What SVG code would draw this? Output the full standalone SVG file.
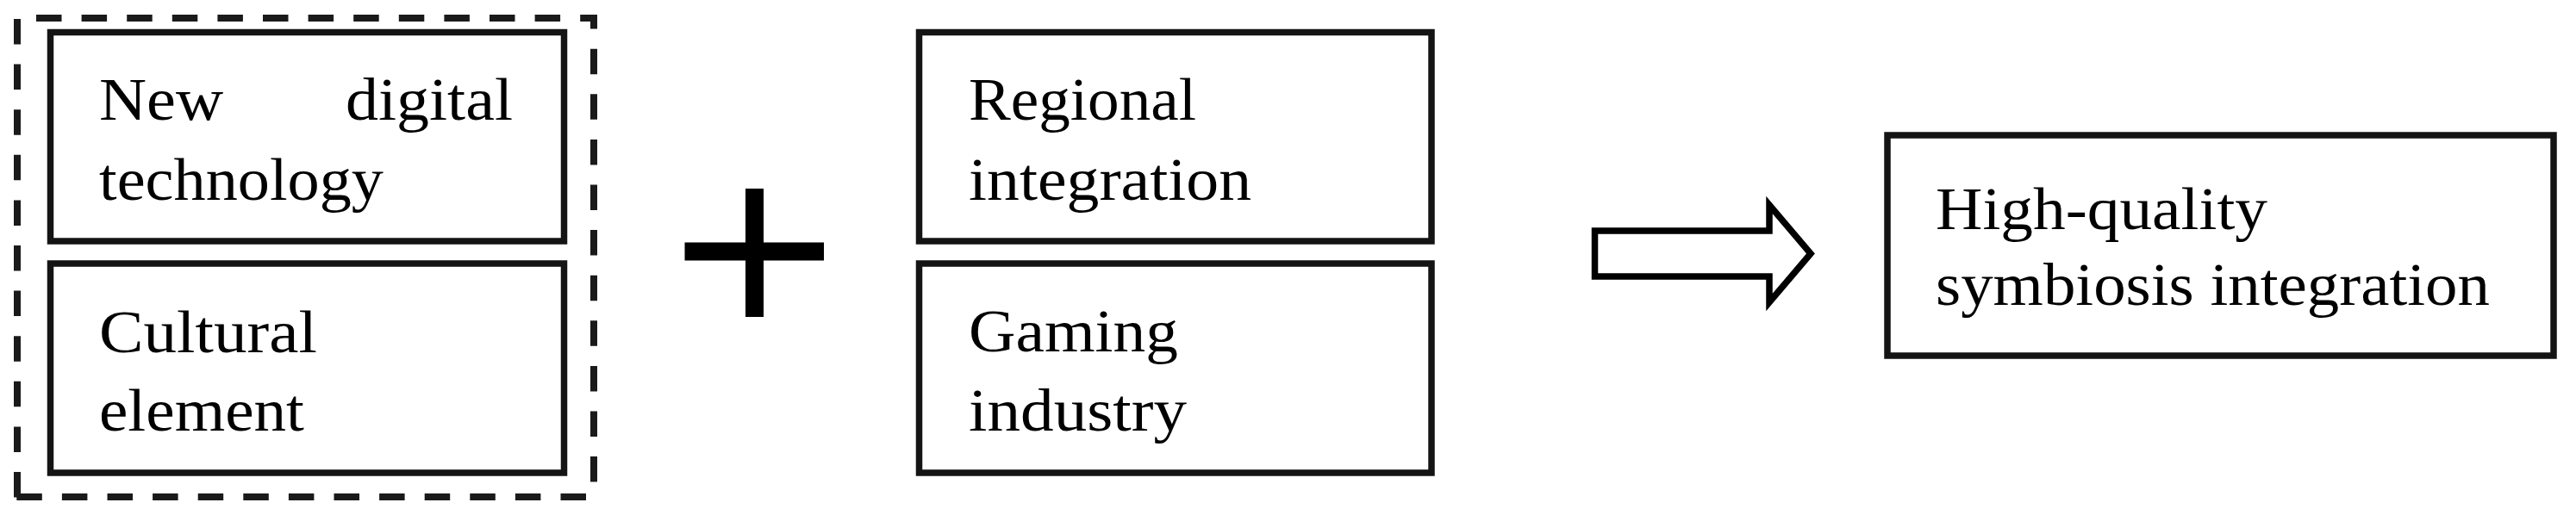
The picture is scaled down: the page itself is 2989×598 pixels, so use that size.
<svg xmlns="http://www.w3.org/2000/svg" width="2989" height="598" viewBox="0 0 2989 598">
<style>
.box{fill:#fff;stroke:#141414;stroke-width:7.5}
.dash{fill:none;stroke:#1a1a1a;stroke-width:8;stroke-dasharray:29.5 23.1}
.t{font-family:"Liberation Serif","Times New Roman",serif;font-size:70px;fill:#000}
.arrow{fill:#fff;stroke:#000;stroke-width:7.5;stroke-miterlimit:10}
</style>
<rect width="2989" height="598" fill="#fff"/>
<g id="group-left">
  <path class="dash" d="M20,21 H693" stroke-dashoffset="30.6"/>
  <path class="dash" d="M689,17 V577" stroke-dashoffset="12.9"/>
  <path class="dash" d="M689,577 H16" stroke-dashoffset="43.6"/>
  <path class="dash" d="M20,22 V581" stroke-dashoffset="0"/>
</g>
<g id="node-new-digital-technology">
  <rect class="box" x="58.5" y="37.5" width="596" height="242.5"/>
  <text class="t" y="138.7"><tspan x="115" textLength="144" lengthAdjust="spacingAndGlyphs">New</tspan><tspan x="401" textLength="194" lengthAdjust="spacingAndGlyphs">digital</tspan></text>
  <text class="t" x="115" y="231.8" textLength="330" lengthAdjust="spacingAndGlyphs">technology</text>
</g>
<g id="node-cultural-element">
  <rect class="box" x="58.5" y="306" width="596" height="243"/>
  <text class="t" x="115" y="409" textLength="253" lengthAdjust="spacingAndGlyphs">Cultural</text>
  <text class="t" x="115" y="500" textLength="238" lengthAdjust="spacingAndGlyphs">element</text>
</g>
<g id="plus">
  <rect x="865" y="219" width="21" height="149" fill="#000"/>
  <rect x="794.5" y="281.5" width="161.5" height="21" fill="#000"/>
</g>
<g id="node-regional-integration">
  <rect class="box" x="1066.5" y="37.5" width="594.5" height="242.5"/>
  <text class="t" x="1124" y="138.7" textLength="264" lengthAdjust="spacingAndGlyphs">Regional</text>
  <text class="t" x="1124" y="231.8" textLength="328" lengthAdjust="spacingAndGlyphs">integration</text>
</g>
<g id="node-gaming-industry">
  <rect class="box" x="1066.5" y="306" width="594.5" height="243"/>
  <text class="t" x="1124" y="408" textLength="243" lengthAdjust="spacingAndGlyphs">Gaming</text>
  <text class="t" x="1124" y="500" textLength="253" lengthAdjust="spacingAndGlyphs">industry</text>
</g>
<g id="connectors">
  <path class="arrow" d="M1850.5,268 H2053 V238 L2101,294.5 L2053,351 V321 H1850.5 Z"/>
</g>
<g id="node-high-quality">
  <rect class="box" x="2190" y="157" width="773" height="256"/>
  <text class="t" x="2246" y="266" textLength="385" lengthAdjust="spacingAndGlyphs">High-quality</text>
  <text class="t" x="2246" y="354" textLength="643" lengthAdjust="spacingAndGlyphs">symbiosis integration</text>
</g>
</svg>
